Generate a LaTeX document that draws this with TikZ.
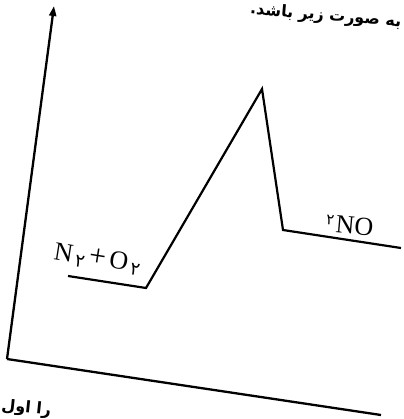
\documentclass[tikz,border=0pt]{standalone}
\usepackage{fontspec}
\newfontfamily\arabicfont[Script=Arabic]{DejaVu Sans}
\newfontfamily\labelfont{Liberation Serif}
\TeXXeTstate=1
\usetikzlibrary{arrows.meta}

\begin{document}
\begin{tikzpicture}[
    x=1pt, y=-1pt,
    axis/.style={line width=2.3pt, draw=black},
    profile/.style={line width=2.2pt, draw=black, line join=miter},
    species/.style={inner sep=0pt, font=\fontsize{26}{28}\selectfont\labelfont},
    persian/.style={inner sep=0pt, font=\fontsize{16}{18}\selectfont\arabicfont\bfseries}
]
\useasboundingbox (0,0) rectangle (403,419);

% Axes
\coordinate (origin) at (7,359);
\coordinate (ytop) at (54,6);
\coordinate (xend) at (381,415);
\draw[axis, -{Triangle[length=10pt,width=7pt]}] (origin) -- (ytop);
\draw[axis] (origin) -- (xend);

% Energy profile
\coordinate (rstart) at (68,276);
\coordinate (rend) at (146,288);
\coordinate (peak) at (262,89);
\coordinate (pstart) at (283,230);
\coordinate (pend) at (401,248);
\draw[profile] (rstart) -- (rend) -- (peak) -- (pstart) -- (pend);

% Species labels
\node[species, rotate=-9, anchor=base west] (reactants) at (53,259)
    {N\kern3pt\textsubscript{\arabicfont ۲}\kern3pt{\fontsize{30}{30}\selectfont+}\kern4ptO\kern3pt\textsubscript{\arabicfont ۲}};
\node[species, rotate=-5, anchor=base west] (products) at (325,232)
    {\raisebox{0.3em}{\fontsize{15}{15}\arabicfont ۲}\kern2ptNO};

% Text of the page
\node[persian, rotate=-5, anchor=base east] (caption) at (401,27)
    {\beginR به صورت زیر باشد.\endR};
\node[persian, rotate=-6, anchor=base west] (footer) at (1,410)
    {\beginR را اول\endR};
\end{tikzpicture}
\end{document}
